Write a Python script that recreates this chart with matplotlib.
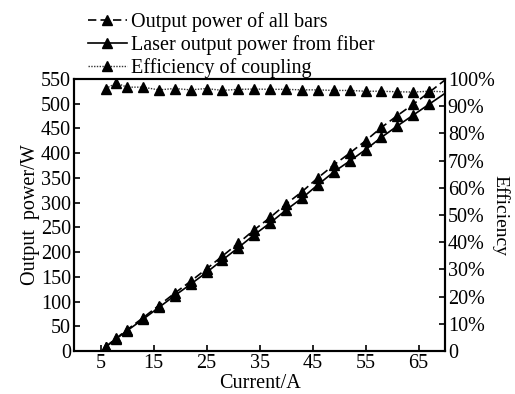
import matplotlib
matplotlib.use("Agg")
import matplotlib.pyplot as plt

current = [6, 8, 10, 13, 16, 19, 22, 25, 28, 31, 34, 37, 40, 43, 46, 49, 52, 55, 58, 61, 64, 67, 70]
power_bars = [9, 26, 43, 67, 92, 117, 141, 166, 192, 218, 245, 270, 297, 322, 350, 376, 400, 425, 452, 476, 499, 523, 548]
power_fiber = [8, 25, 41, 64, 88, 112, 135, 159, 184, 209, 235, 259, 285, 309, 336, 362, 384, 407, 432, 455, 477, 499, 521]
efficiency = [96.5, 98.5, 97, 97, 96, 96.5, 96, 96.5, 95.8, 96.2, 96.3, 96.2, 96.2, 96, 96, 95.8, 95.8, 95.5, 95.5, 95.3, 95.2, 95.5, 95.3]

x_ticks = [5, 15, 25, 35, 45, 55, 65]
left_ticks = list(range(0, 551, 50))
right_ticks = list(range(0, 101, 10))
right_labels = ["0"] + ["%d%%" % v for v in right_ticks[1:]]

plt.rcParams['font.family'] = ['Liberation Serif', 'DejaVu Serif']
plt.rcParams['font.size'] = 14.5

fig = plt.figure(figsize=(5.15, 3.94), dpi=100)
ax = fig.add_axes([0.1437, 0.1091, 0.7204, 0.6904])
ax2 = ax.twinx()

marks = list(range(len(current) - 1))
l1, = ax.plot(current, power_bars, color='black', ls=(0, (5, 2.5)), lw=1.2,
              marker='^', ms=6.5, markevery=marks, label='Output power of all bars')
l2, = ax.plot(current, power_fiber, color='black', ls='-', lw=1.2,
              marker='^', ms=6.5, markevery=marks, label='Laser output power from fiber')
l3, = ax2.plot(current, efficiency, color='#333333', ls=(0, (1, 1)), lw=1.0,
               marker='^', ms=6.5, mfc='black', mec='black', markevery=marks,
               label='Efficiency of coupling')

ax.set_xlim(0, 70)
ax.set_ylim(0, 550)
ax2.set_ylim(0, 100)
ax.set_xticks(x_ticks)
ax.set_yticks(left_ticks)
ax2.set_yticks(right_ticks)
ax2.set_yticklabels(right_labels)

for a in (ax, ax2):
    a.tick_params(direction='in', length=4, width=1.2, pad=2)
    for s in a.spines.values():
        s.set_linewidth(1.5)

ax.set_xlabel('Current/A', labelpad=1)
ax.set_ylabel('Output  power/W', labelpad=1)
ax2.set_ylabel('Efficiency', rotation=-90, va='center', fontsize=14)
ax2.yaxis.set_label_coords(1.15, 0.5)

fig.legend(handles=[l1, l2, l3], loc='upper left', bbox_to_anchor=(0.148, 1.0),
           frameon=False, handlelength=1.9, handletextpad=0.2, labelspacing=0.15,
           borderaxespad=0.2)

fig.savefig('out.png', dpi=100)
